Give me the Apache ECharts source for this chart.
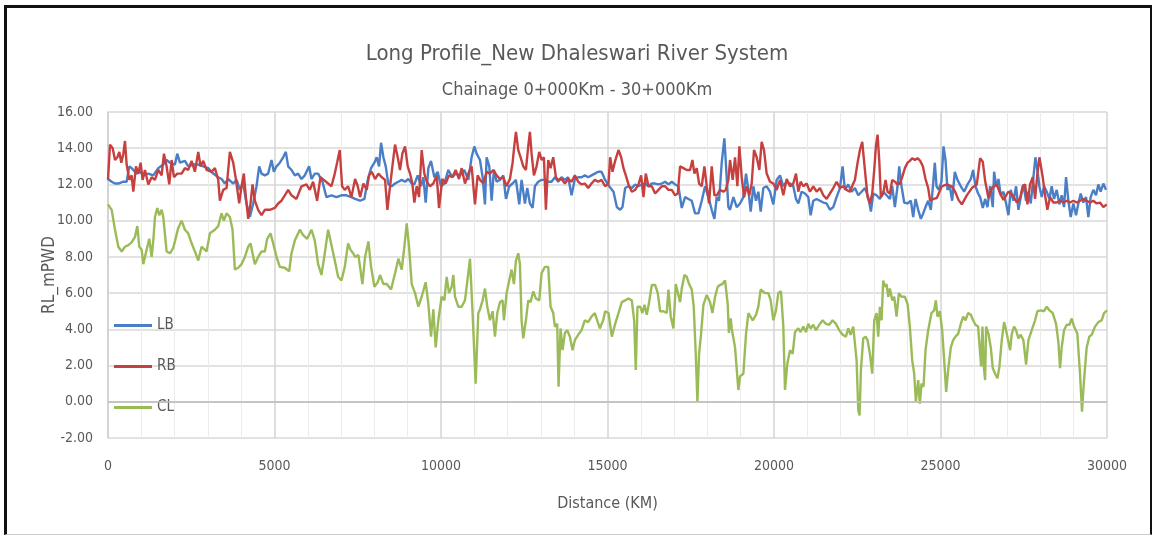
<!DOCTYPE html>
<html>
<head>
<meta charset="utf-8">
<script src="https://cdn.jsdelivr.net/npm/echarts@6/dist/echarts.min.js"></script>
<style>
  html, body { margin: 0; padding: 0; background: #fff; }
  #chart { width: 1154px; height: 535px; }
  .frame {
    position: absolute;
    left: 4px; top: 5px; width: 1143px; height: 526px;
    border-left: 3px solid #111;
    border-top: 3px solid #111;
    border-right: 2px solid #111;
    border-bottom: 1px solid #ccc;
    pointer-events: none;
  }
</style>
</head>
<body>
<div id="chart"></div>
<div class="frame"></div>
<script>
// distance along river (m) and reduced level (mPWD)
const lbPoints = [
  [0,12.3],[110,12.15],[210,12.05],[310,12.05],[460,12.15],[560,12.15],[640,13.0],[710,12.9],[760,12.8],[860,12.6],
  [960,12.7],[1060,12.5],[1210,12.6],[1360,12.5],[1510,12.9],[1660,13.1],[1760,13.35],[1860,13.2],[2010,13.1],[2080,13.7],
  [2160,13.2],[2310,13.3],[2410,13.0],[2560,13.1],[2710,13.1],[2860,13.0],[3010,12.9],[3160,12.6],[3310,12.4],[3410,12.3],
  [3510,12.05],[3610,12.3],
  [3660,12.25],[3760,12.05],[3860,12.25],[3960,11.7],[4060,12.05],[4160,10.95],[4260,10.2],[4360,10.95],[4460,11.9],[4540,13.0],
  [4610,12.6],[4710,12.5],[4810,12.6],[4910,13.35],[4980,12.7],[5060,13.0],[5160,13.2],[5260,13.5],[5340,13.8],[5410,13.0],
  [5510,12.8],[5610,12.5],[5710,12.6],[5810,12.3],[5910,12.5],[6040,13.0],[6110,12.3],[6210,12.6],[6310,12.6],[6440,12.15],
  [6560,11.3],[6710,11.4],[6860,11.3],[7010,11.4],[7160,11.4],[7310,11.3],
  [7420,11.2],[7570,11.1],[7700,11.2],[7800,12.25],[7900,12.9],[8000,13.2],[8070,13.5],[8140,13.0],[8200,14.3],[8270,13.5],
  [8340,13.0],[8420,12.0],[8520,11.9],[8620,12.05],[8720,12.15],[8820,12.25],[8920,12.15],[9020,12.3],[9120,12.05],[9200,12.0],
  [9300,12.5],[9400,11.9],[9470,12.4],[9540,11.0],[9620,12.9],[9700,13.3],[9800,12.4],[9900,12.7],[10000,11.9],[10100,12.05],
  [10220,12.8],[10340,12.4],[10440,12.6],[10570,12.5],[10700,12.8],[10820,12.25],[10920,13.5],[11000,14.1],[11070,13.7],
  [11170,13.35],[11250,12.4],[11320,10.9],[11370,13.5],[11450,13.0],[11520,11.1],[11590,12.8],[11670,12.15],[11770,12.25],[11870,12.5],
  [11950,11.2],[12050,11.9],[12150,12.05],[12250,12.25],[12350,10.9],[12420,12.25],[12520,10.95],[12590,11.8],[12670,10.95],[12750,10.7],
  [12820,11.9],[12920,12.15],[13020,12.25],[13120,12.25],[13220,12.15],[13320,12.15],[13420,12.4],[13520,12.15],[13620,12.4],[13720,12.25],
  [13820,12.4],[13920,11.4],[14020,12.3],[14120,12.4],[14220,12.4],[14320,12.5],[14420,12.4],[14520,12.5],[14620,12.6],[14720,12.7],
  [14820,12.7],
  [14930,12.25],[15050,11.9],[15180,11.6],[15280,10.75],[15380,10.6],[15450,10.75],[15530,11.8],[15630,11.9],[15730,11.8],[15830,12.0],
  [15930,11.9],[16030,12.0],[16130,12.05],[16230,11.9],[16330,12.05],[16430,12.05],[16530,12.0],[16630,12.05],[16730,12.15],[16830,12.0],
  [16930,12.15],[17030,12.0],[17130,11.9],[17230,10.7],[17330,11.3],[17430,11.2],[17530,11.1],[17630,10.4],[17730,10.4],[17830,11.1],
  [17930,11.9],[18030,11.3],[18130,10.6],[18210,10.1],[18280,11.3],[18350,11.1],[18430,13.2],[18510,14.55],[18560,13.0],[18630,10.75],
  [18680,10.6],[18780,11.3],[18880,10.75],[18980,10.95],[19080,11.3],[19160,12.6],[19230,11.7],[19300,10.5],[19380,11.9],[19460,11.1],
  [19530,11.6],[19600,10.5],[19680,11.8],[19780,11.9],[19880,11.6],[19980,10.9],[20080,12.25],[20180,12.5],[20280,11.9],[20380,12.15],
  [20480,12.05],[20580,11.9],[20660,11.2],[20730,10.95],[20830,11.6],[20930,11.5],[21030,11.3],[21100,10.3],[21180,11.1],[21280,11.2],
  [21380,11.1],[21480,11.0],[21580,10.95],[21680,10.6],[21780,10.75],[21880,11.3],[21980,11.8],[22060,13.0],[22130,11.7],[22230,12.0],
  [22330,11.6],
  [22430,11.8],[22530,11.4],[22630,11.6],[22730,11.8],[22830,11.3],[22910,10.5],[22980,11.5],[23080,11.4],[23180,11.2],[23280,11.6],
  [23380,11.4],[23480,11.2],[23550,11.9],[23630,10.75],[23710,11.9],[23760,13.0],[23830,11.9],[23910,11.0],[24010,10.95],[24110,11.1],
  [24180,10.2],[24250,11.2],[24330,10.6],[24410,10.1],[24480,10.4],[24550,10.75],[24630,11.1],[24710,10.6],[24780,12.05],[24830,13.2],
  [24880,11.9],[24950,11.7],[25030,12.15],[25090,14.1],[25150,13.35],[25210,11.7],[25280,11.9],[25350,11.1],[25430,12.7],[25510,12.25],
  [25610,11.9],[25710,11.6],[25810,12.0],[25910,12.3],[25980,12.8],[26050,11.9],[26130,11.5],
  [26190,11.3],[26270,10.7],[26340,11.2],[26410,10.75],[26490,11.9],[26570,10.75],[26610,12.7],[26670,11.9],[26740,12.3],[26810,11.4],
  [26890,11.6],[26970,10.95],[27040,10.3],[27110,11.7],[27190,11.1],[27270,11.9],[27340,10.6],[27410,11.3],[27490,12.0],[27570,11.1],
  [27640,11.6],[27710,10.95],[27790,12.4],[27850,13.5],[27910,12.8],[27970,11.9],[28040,11.3],[28110,11.9],[28190,11.6],[28270,11.2],
  [28340,11.9],[28410,11.2],[28490,11.7],[28570,10.9],[28640,11.4],[28710,10.75],[28770,12.4],[28840,11.1],[28910,10.2],[28990,10.95],
  [29070,10.3],[29140,10.95],[29210,11.5],[29290,11.0],[29370,11.3],[29440,10.2],[29510,11.3],[29590,11.7],[29670,11.4],[29740,12.0],
  [29810,11.6],[29890,12.05],[29970,11.7]
];

const rbPoints = [
  [0,12.25],[60,14.2],[140,14.0],[210,13.35],[280,13.5],[340,13.8],[400,13.2],[460,13.7],[510,14.4],[560,13.1],
  [640,12.25],[710,12.5],[760,11.6],[840,13.0],[910,12.6],[980,13.2],[1040,12.25],[1110,12.8],[1210,12.0],[1310,12.4],
  [1410,12.25],[1510,12.8],[1610,12.5],[1680,13.7],[1760,13.0],[1840,12.0],[1910,13.35],[1980,12.4],[2080,12.6],[2210,12.6],
  [2310,12.9],[2410,12.8],[2510,13.3],[2610,12.7],[2710,13.8],[2780,13.0],[2860,13.3],[2960,12.8],[3110,12.7],[3210,12.9],
  [3310,12.25],[3360,11.1],[3460,11.7],[3560,11.8],
  [3660,13.8],[3760,13.2],[3840,12.3],[3940,10.95],[4010,11.9],[4080,12.6],[4140,11.3],[4210,10.1],[4280,10.95],[4340,12.0],
  [4410,11.1],[4510,10.6],[4610,10.3],[4710,10.6],[4860,10.6],[5010,10.7],[5110,10.95],[5210,11.1],[5310,11.4],[5410,11.7],
  [5510,11.4],[5660,11.2],[5810,11.9],[5960,12.0],[6060,11.7],[6160,12.15],[6280,11.1],[6380,12.4],[6480,12.25],[6610,12.05],
  [6710,11.9],[6810,12.6],[6880,13.2],[6960,13.9],[7030,11.9],[7110,11.7],[7210,11.9],[7310,11.3],
  [7420,12.3],[7500,11.9],[7570,11.3],[7670,12.05],[7770,11.7],[7840,12.5],[7920,12.7],[8020,12.3],[8120,12.6],[8220,12.4],
  [8320,12.25],[8390,10.6],[8470,11.9],[8540,13.0],[8620,14.2],[8700,13.5],[8770,12.8],[8840,13.7],[8920,14.1],[9000,13.0],
  [9070,12.6],[9140,12.05],[9200,11.0],[9270,11.9],[9340,11.3],[9420,13.9],[9500,12.6],[9570,12.15],[9670,11.9],[9770,12.05],
  [9870,12.5],[9940,10.7],[10040,12.3],[10140,12.05],[10240,12.5],[10340,12.4],[10440,12.8],[10540,12.3],[10620,12.9],[10720,12.05],
  [10820,12.6],[10920,13.0],[11020,10.9],[11100,12.5],
  [11170,12.25],[11270,12.05],[11370,12.7],[11470,12.6],[11570,12.8],[11670,12.5],[11770,12.3],[11870,12.4],[11970,11.9],[12070,12.3],
  [12150,13.2],[12200,14.1],[12250,14.9],[12320,13.9],[12390,13.5],[12470,13.0],[12550,12.8],[12620,14.1],[12670,14.9],[12720,13.7],
  [12790,12.5],[12870,13.0],[12950,13.8],[13020,13.35],[13090,13.5],[13150,10.6],[13220,13.35],[13290,12.9],[13370,13.5],[13450,12.4],
  [13520,12.25],[13620,12.3],[13720,12.05],[13820,12.3],[13920,12.15],[14020,12.5],[14120,12.15],[14220,12.0],[14320,12.05],[14420,11.8],
  [14520,12.05],[14620,12.25],[14720,12.15],[14820,12.25],
  [14930,11.9],[15030,12.05],[15080,13.5],[15150,12.7],[15230,13.3],[15330,13.9],[15410,13.5],[15480,12.9],[15550,12.5],[15630,12.0],
  [15730,11.6],[15830,11.7],[15930,12.0],[16010,12.5],[16080,11.3],[16150,12.6],[16230,11.9],[16330,11.9],[16430,11.5],[16530,11.7],
  [16630,11.9],[16730,11.9],[16830,11.7],[16930,11.7],[17030,11.4],[17110,11.5],[17180,13.0],[17280,12.9],[17380,12.8],[17480,12.8],
  [17550,13.35],[17610,12.6],[17680,12.9],[17750,12.05],[17830,11.9],[17910,13.0],[17980,11.9],[18050,10.95],[18130,13.0],[18210,11.4],
  [18280,11.4],[18380,11.7],[18480,11.6],[18550,11.7],[18630,12.25],
  [18680,13.35],[18760,12.25],[18830,13.5],[18900,11.9],[18960,14.1],[19030,12.4],[19100,11.3],[19180,11.9],[19260,11.4],[19330,12.05],
  [19400,13.9],[19480,13.5],[19560,12.8],[19630,14.35],[19700,13.9],[19780,12.6],[19880,12.15],[19980,12.05],[20080,11.7],[20180,12.25],
  [20280,11.4],[20380,12.3],[20480,11.9],[20580,12.05],[20660,12.6],[20730,11.6],[20800,12.15],[20880,11.9],[20980,12.05],[21080,11.6],
  [21180,11.9],[21280,11.6],[21380,11.8],[21480,11.4],[21580,11.2],[21680,11.5],[21780,11.8],[21880,12.15],[21980,11.8],[22080,11.9],
  [22180,11.7],[22280,11.6],[22380,12.05],
  [22430,12.25],[22510,13.2],[22580,13.9],[22650,14.35],[22730,12.8],[22810,11.3],[22880,10.95],[22950,11.5],[23010,12.8],[23060,14.1],
  [23110,14.75],[23160,13.35],[23210,11.3],[23280,11.5],[23350,12.25],[23410,11.6],[23480,11.5],[23550,12.25],[23630,12.15],[23710,12.0],
  [23780,12.05],[23850,12.4],[23930,12.9],[24010,13.2],[24080,13.3],[24150,13.45],[24230,13.35],[24310,13.45],[24390,13.3],[24470,13.0],
  [24550,12.3],[24630,11.8],[24690,11.1],[24790,11.2],[24890,11.25],[25040,11.9],[25190,12.0],[25340,11.9],[25440,11.6],[25540,11.15],
  [25640,10.9],[25790,11.4],[25940,11.8],[26090,12.0],
  [26190,13.45],[26270,13.25],[26340,12.2],[26440,11.25],[26540,11.8],[26690,12.0],[26790,11.5],[26890,11.15],[27040,11.6],[27190,11.35],
  [27290,11.0],[27390,11.25],[27470,11.9],[27540,12.0],[27610,10.9],
  [27690,12.0],[27770,12.4],[27840,11.2],[27910,12.6],[27970,13.5],[28020,13.6],[28070,12.4],[28140,11.4],[28210,10.6],[28290,11.3],
  [28390,11.0],[28490,11.0],[28590,11.1],[28690,11.0],[28790,11.1],[28890,11.0],[28990,11.1],[29090,11.0],[29190,11.1],[29290,11.2],
  [29390,11.1],[29490,11.0],[29590,11.1],[29690,10.95],[29790,11.0],[29890,10.75],[29990,10.9]
];

const clPoints = [
  [0,10.9],[110,10.6],[210,9.5],[310,8.56],[410,8.3],[510,8.56],[610,8.65],[710,8.8],[810,9.1],[880,9.7],
  [940,8.56],[1010,8.4],[1060,7.6],[1160,8.4],[1240,9.0],[1310,8.0],[1360,8.9],[1410,10.2],[1480,10.7],[1540,10.3],
  [1610,10.6],[1660,10.2],[1760,8.3],[1860,8.2],[1960,8.5],[2110,9.6],[2210,10.0],[2310,9.5],[2410,9.3],[2510,8.75],
  [2610,8.3],[2710,7.8],[2810,8.56],[2960,8.3],[3060,9.3],[3210,9.5],[3310,9.7],[3410,10.4],[3480,10.0],[3560,10.4],
  [3660,10.2],[3740,9.5],[3810,7.3],[3910,7.4],[4010,7.6],[4110,8.0],[4210,8.56],[4280,8.75],[4340,8.2],[4410,7.6],
  [4510,8.0],[4610,8.3],[4710,8.3],[4780,9.0],[4880,9.3],[4960,8.75],[5060,8.0],[5160,7.45],[5310,7.4],[5440,7.2],
  [5510,8.2],[5610,8.9],[5760,9.5],[5860,9.2],[5980,9.0],[6110,9.5],[6210,8.9],[6310,7.6],[6410,7.0],[6510,8.2],
  [6610,9.5],[6710,8.65],[6810,7.8],[6910,6.9],[7010,6.7],[7110,7.45],[7210,8.75],[7280,8.4],[7360,8.2],
  [7420,8.0],[7520,8.1],[7640,6.5],[7720,8.0],[7820,8.85],[7900,7.45],[8000,6.35],[8100,6.6],[8170,7.0],[8270,6.5],
  [8370,6.5],[8500,6.2],[8620,7.1],[8720,7.9],[8820,7.3],[8900,8.56],[8970,9.85],[9040,8.56],[9120,6.5],[9220,6.0],
  [9320,5.25],[9420,5.8],[9540,6.6],[9620,5.4],[9700,3.6],[9770,5.1],[9840,3.0],[9920,4.5],[10020,5.8],[10100,5.6],
  [10170,6.9],[10240,6.0],[10320,6.35],[10370,7.0],[10420,5.8],[10520,5.25],[10620,5.25],[10720,5.6],[10820,7.1],[10870,7.9],
  [10940,5.25],[11040,1.0],[11120,4.9],
  [11170,5.1],[11250,5.6],[11320,6.25],[11390,5.25],[11470,4.5],[11550,5.0],[11620,3.6],[11690,4.9],[11770,5.5],[11850,5.6],
  [11890,4.5],[11970,6.0],[12050,6.7],[12120,7.3],[12190,6.5],[12250,7.8],[12320,8.2],[12370,7.6],[12420,4.5],[12470,3.5],
  [12550,4.5],[12620,5.6],[12690,5.5],[12770,6.1],[12850,5.7],[12950,5.6],[13020,7.1],[13120,7.45],[13220,7.45],[13290,5.25],
  [13370,4.9],[13420,4.15],[13490,4.3],[13530,0.83],[13590,4.05],[13650,2.85],[13720,3.8],[13790,3.95],[13870,3.6],[13950,2.85],
  [14020,3.4],[14120,3.7],[14220,3.95],[14320,4.5],[14420,4.4],[14520,4.7],[14620,4.9],[14690,4.5],[14770,4.05],[14870,4.5],
  [14930,5.0],[15030,4.9],[15130,3.6],[15230,4.3],[15330,4.9],[15430,5.5],[15530,5.6],[15630,5.7],[15730,5.6],[15800,4.5],
  [15850,1.75],[15900,5.25],[15980,5.25],[16050,4.9],[16110,5.35],[16180,4.8],[16250,5.5],[16330,6.45],[16430,6.45],[16510,6.0],
  [16580,5.0],[16680,5.0],[16780,4.9],[16830,6.2],[16900,4.7],[16980,4.05],[17050,6.5],[17110,6.6],[17180,5.5],[17230,6.25],
  [17310,7.0],[17380,6.9],[17450,6.5],[17530,6.2],[17590,5.25],[17650,2.65],[17700,0.0],[17750,2.65],[17810,3.75],[17880,5.35],
  [17980,5.9],[18080,5.5],[18150,4.9],[18230,5.8],[18310,6.35],[18380,6.45],[18450,6.5],[18530,6.7],[18610,5.4],[18645,3.8],
  [18700,4.6],[18730,4.05],[18830,3.0],[18930,0.65],[18980,1.4],[19080,1.55],[19160,3.75],[19230,4.9],[19280,5.0],[19360,4.5],
  [19460,4.8],[19530,5.25],[19600,6.2],[19660,6.25],[19730,6.0],[19830,6.0],[19900,5.6],[19980,4.5],[20060,5.05],[20130,6.0],
  [20210,6.1],[20280,4.15],[20330,0.65],[20400,2.1],[20480,2.85],[20560,2.65],[20630,3.85],[20730,4.05],[20800,3.85],[20880,4.15],
  [20960,3.85],[21030,4.3],[21100,4.05],[21180,4.25],[21260,3.95],[21360,4.25],[21460,4.5],[21560,4.3],[21660,4.25],[21760,4.5],
  [21860,4.3],[21960,3.95],[22060,3.7],[22160,3.6],[22230,4.05],[22300,3.7],[22380,4.15],
  [22430,4.15],[22480,2.3],[22530,-0.45],[22570,-0.75],[22610,1.75],[22680,3.5],[22750,3.6],[22810,3.4],[22880,2.65],[22950,1.55],
  [23010,4.5],[23080,4.9],[23130,3.6],[23180,5.25],[23230,4.5],[23280,6.7],[23330,6.35],[23380,6.5],[23430,5.8],[23480,6.25],
  [23550,5.6],[23610,5.8],[23680,4.7],[23750,6.0],[23830,5.8],[23930,5.8],[24010,5.4],[24080,4.15],[24150,2.3],[24210,1.55],
  [24260,0.0],[24330,1.2],[24380,-0.1],[24430,1.0],[24490,0.83],[24550,2.85],[24630,3.95],[24730,4.9],[24810,5.05],[24860,5.6],
  [24910,4.7],[24980,5.0],[25050,3.95],[25110,2.3],[25170,0.55],[25230,1.75],[25310,3.0],[25380,3.4],[25450,3.6],[25530,3.75],
  [25610,4.3],[25680,4.7],[25750,4.5],[25830,4.9],[25910,4.8],[25980,4.5],[26050,4.25],[26130,4.15],
  [26190,4.15],[26220,1.95],[26260,4.15],[26300,1.95],[26340,1.2],[26370,4.15],[26440,3.75],[26510,3.0],[26570,1.85],[26640,1.55],
  [26710,1.3],[26770,1.95],[26840,3.4],[26910,4.4],[26970,3.95],[27040,3.3],[27090,2.85],[27140,3.75],[27210,4.15],[27270,3.95],
  [27340,3.5],[27410,3.7],[27490,3.4],[27570,2.05],[27640,3.4],[27740,3.95],[27840,4.5],[27910,5.0],[28010,5.05],[28110,5.0],
  [28190,5.25],[28270,5.05],[28370,4.9],[28470,4.3],[28540,3.3],[28590,1.85],[28640,3.0],[28710,3.95],[28790,4.25],[28870,4.25],
  [28940,4.6],[29010,4.15],[29110,3.75],[29190,1.55],[29250,-0.55],[29310,1.2],[29390,3.0],[29470,3.6],[29540,3.7],[29640,4.15],
  [29740,4.4],[29840,4.5],[29910,4.9],[30000,5.05]
];

const seriesNames = ['LB', 'RB', 'CL'];
const seriesColors = ['#4a7ec6', '#c6403f', '#9bbb59'];
const seriesPoints = [lbPoints, rbPoints, clPoints];

const textColor = '#595959';
const fontStack = "'Liberation Sans Narrow', 'DejaVu Sans Condensed', 'Open Sans', sans-serif";

const chart = echarts.init(document.getElementById('chart'));

chart.setOption({
  backgroundColor: '#fff',
  animation: false,
  textStyle: { fontFamily: fontStack, color: textColor },
  title: [
    {
      text: 'Long Profile_New Dhaleswari River System',
      left: 'center', top: 38,
      textStyle: { fontFamily: fontStack, fontSize: 22, fontWeight: 'normal', color: textColor }
    },
    {
      text: 'Chainage 0+000Km - 30+000Km',
      left: 'center', top: 76,
      textStyle: { fontFamily: fontStack, fontSize: 18, fontWeight: 'normal', color: textColor }
    }
  ],
  legend: {
    orient: 'vertical',
    left: 109, top: 313,
    itemGap: 26,
    itemWidth: 38, itemHeight: 3,
    icon: 'rect',
    textStyle: { fontFamily: fontStack, fontSize: 15, color: textColor },
    data: seriesNames
  },
  grid: { left: 108, top: 112, width: 999, height: 326 },
  xAxis: {
    type: 'value',
    min: 0, max: 30000, interval: 5000,
    name: 'Distance (KM)',
    nameLocation: 'middle', nameGap: 58, nameMoveOverlap: false,
    nameTextStyle: { fontFamily: fontStack, fontSize: 16, color: textColor },
    axisLine: { show: true, lineStyle: { color: '#d0d0d0', width: 1.5 } },
    axisTick: { show: false },
    axisLabel: {
      fontFamily: fontStack, fontSize: 14, color: textColor, margin: 21,
      formatter: v => String(v)
    },
    splitLine: { show: true, lineStyle: { color: '#d4d4d4', width: 1.5 } },
    minorTick: { show: false, splitNumber: 5 },
    minorSplitLine: { show: true, lineStyle: { color: '#ececec', width: 1 } }
  },
  yAxis: {
    type: 'value',
    min: -2, max: 16, interval: 2,
    name: 'RL_mPWD',
    nameLocation: 'middle', nameGap: 50, nameMoveOverlap: false,
    nameTextStyle: { fontFamily: fontStack, fontSize: 17, color: textColor },
    axisLine: { show: true, lineStyle: { color: '#d0d0d0', width: 1.5 } },
    axisTick: { show: false },
    axisLabel: {
      fontFamily: fontStack, fontSize: 14, color: textColor, margin: 15,
      formatter: v => v.toFixed(2)
    },
    splitLine: { show: true, lineStyle: { color: '#d9d9d9', width: 1.5 } }
  },
  series: seriesNames.map((name, i) => ({
    name,
    type: 'line',
    data: seriesPoints[i],
    showSymbol: false,
    symbol: 'none',
    color: seriesColors[i],
    lineStyle: { color: seriesColors[i], width: 2.4 },
    z: 3,
    markLine: i === 0 ? {
      silent: true, symbol: 'none', label: { show: false },
      lineStyle: { color: '#bfbfbf', width: 1.5, type: 'solid' },
      data: [{ yAxis: 0 }]
    } : undefined
  }))
});
</script>
</body>
</html>
